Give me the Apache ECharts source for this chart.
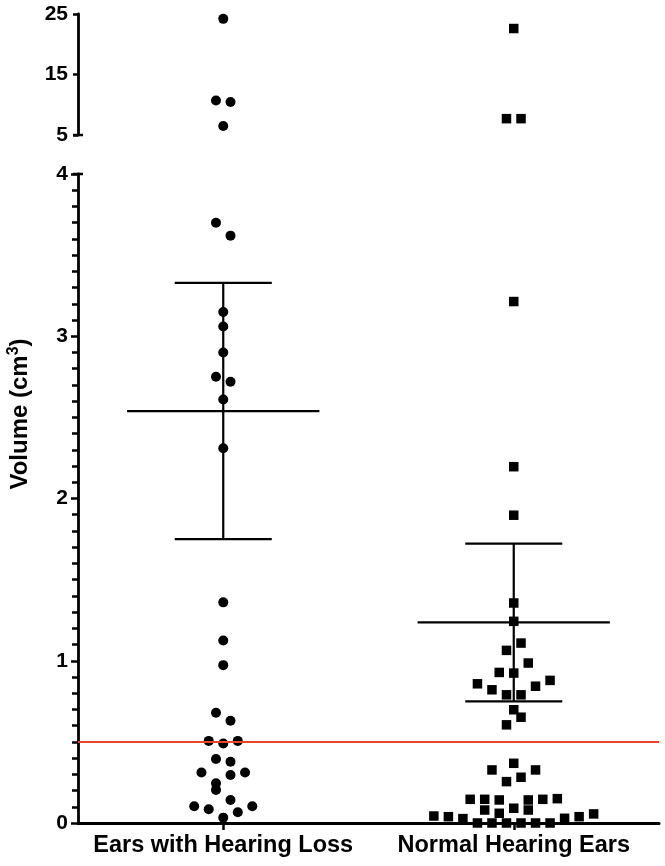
<!DOCTYPE html>
<html>
<head>
<meta charset="utf-8">
<script src="https://cdn.jsdelivr.net/npm/echarts@6/dist/echarts.min.js"></script>
<style>
  html, body { margin: 0; padding: 0; background: #fff; }
  #chart { width: 665px; height: 866px; }
</style>
</head>
<body>
<div id="chart"></div>
<script>
// groups on the x axis
var categories = ['Ears with Hearing Loss', 'Normal Hearing Ears'];

// volumes (cm3), with horizontal jitter steps
var lossValues = [24.2, 10.7, 10.45, 6.5, 3.70, 3.62, 3.15, 3.06, 2.90, 2.75, 2.72, 2.61, 2.31,
  1.36, 1.125, 0.973, 0.679, 0.630, 0.506, 0.490, 0.506, 0.395, 0.378, 0.311, 0.296, 0.311,
  0.245, 0.204, 0.142, 0.103, 0.085, 0.103, 0.066, 0.033];
var lossSteps = [0, -1, 1, 0, -1, 1, 0, 0, 0, -1, 1, 0, 0,
  0, 0, 0, -1, 1, -2, 0, 2, -1, 1, -3, 1, 3,
  -1, -1, 1, -4, -2, 4, 2, 0];

var normalValues = [22.6, 7.7, 7.7, 3.214, 2.196, 1.897, 1.356, 1.243, 1.109, 1.064, 0.986,
  0.928, 0.924, 0.858, 0.879, 0.821, 0.843, 0.790, 0.790, 0.698, 0.652, 0.605,
  0.368, 0.327, 0.327, 0.282, 0.255, 0.146, 0.146, 0.142, 0.142, 0.146, 0.150,
  0.080, 0.060, 0.091, 0.080, 0.043, 0.039, 0.027, 0, 0, 0, 0, 0, 0, 0.029, 0.039, 0.056];
var normalSteps = [0, -1, 1, 0, 0, 0, 0, 0, 1, -1, 2,
  -2, 0, -5, 5, -3, 3, -1, 1, 0, 1, -1,
  0, -3, 3, 1, -1, -6, -4, -2, 2, 4, 6,
  -4, -2, 0, 2, -11, -9, -7, -5, -3, -1, 1, 3, 5, 7, 9, 11];

// mean and SD per group
var means = [2.539, 1.236];
var sds = [0.79, 0.486];

// reference line
var refLine = 0.5;

// broken axis: lower segment 0-4, upper segment 5-25
var lowMax = 4;
var highMin = 5, highMax = 25, highStep = 10;
var stepWidth = 0.025;

var font = "'Liberation Sans', Arial, sans-serif";

function toPoints(values, steps, group, upper) {
  var out = [];
  values.forEach(function (v, i) {
    if ((v > lowMax) === upper) out.push([group + steps[i] * stepWidth, v]);
  });
  return out;
}

var chart = echarts.init(document.getElementById('chart'));

var axisLine = { show: true, onZero: false, lineStyle: { color: '#000', width: 2.8 } };
var yLabel = { color: '#000', fontSize: 21, fontWeight: 'bold', fontFamily: font, margin: 10 };
var dot = { color: '#000', opacity: 1 };

var option = {
  animation: false,
  backgroundColor: '#fff',
  grid: [
    { left: 78, width: 581, top: 14, height: 121 },
    { left: 78, width: 581, top: 174, height: 649 }
  ],
  xAxis: [
    { gridIndex: 0, type: 'value', min: -0.5, max: 1.5, show: false },
    {
      gridIndex: 1, type: 'category', data: categories, boundaryGap: true,
      axisLine: { show: true, onZero: false, lineStyle: { color: '#000', width: 3 } },
      axisTick: { show: true, alignWithLabel: true, interval: 0, length: 7, lineStyle: { color: '#000', width: 2.5 } },
      axisLabel: { interval: 0, color: '#000', fontSize: 23.5, fontWeight: 'bold', fontFamily: font, margin: 11 },
      splitLine: { show: false }
    },
    { gridIndex: 1, type: 'value', min: -0.5, max: 1.5, show: false }
  ],
  yAxis: [
    {
      gridIndex: 0, type: 'value', min: highMin, max: highMax, interval: highStep,
      axisLine: axisLine,
      axisTick: { show: true, length: 5, lineStyle: { color: '#000', width: 2.5 } },
      axisLabel: yLabel,
      splitLine: { show: false }
    },
    {
      gridIndex: 1, type: 'value', min: 0, max: lowMax, interval: 1,
      axisLine: axisLine,
      axisTick: { show: true, length: 7, lineStyle: { color: '#000', width: 2.5 } },
      minorTick: { show: true, splitNumber: 10, length: 6, lineStyle: { color: '#000', width: 2.5 } },
      axisLabel: yLabel,
      splitLine: { show: false }
    }
  ],
  series: [
    {
      type: 'scatter', xAxisIndex: 0, yAxisIndex: 0, symbol: 'circle', symbolSize: 10,
      itemStyle: dot, data: toPoints(lossValues, lossSteps, 0, true)
    },
    {
      type: 'scatter', xAxisIndex: 0, yAxisIndex: 0, symbol: 'rect', symbolSize: 9.5,
      itemStyle: dot, data: toPoints(normalValues, normalSteps, 1, true)
    },
    {
      type: 'custom', xAxisIndex: 2, yAxisIndex: 1, z: 1,
      data: means.map(function (m, i) { return [i, m, sds[i]]; }),
      renderItem: function (params, api) {
        var x = api.value(0), m = api.value(1), s = api.value(2);
        var style = { stroke: '#000', lineWidth: 2.2 };
        function seg(x1, y1, x2, y2) {
          var a = api.coord([x1, y1]), b = api.coord([x2, y2]);
          return { type: 'line', shape: { x1: a[0], y1: a[1], x2: b[0], y2: b[1] }, style: style };
        }
        return {
          type: 'group',
          children: [
            seg(x, m - s, x, m + s),
            seg(x - 0.331, m, x + 0.331, m),
            seg(x - 0.167, m + s, x + 0.167, m + s),
            seg(x - 0.167, m - s, x + 0.167, m - s)
          ]
        };
      }
    },
    {
      type: 'scatter', xAxisIndex: 2, yAxisIndex: 1, symbol: 'circle', symbolSize: 10, z: 3,
      itemStyle: dot, data: toPoints(lossValues, lossSteps, 0, false),
      markLine: {
        silent: true, symbol: 'none', label: { show: false },
        lineStyle: { color: '#e8432c', width: 2, type: 'solid' },
        data: [{ yAxis: refLine }]
      }
    },
    {
      type: 'scatter', xAxisIndex: 2, yAxisIndex: 1, symbol: 'rect', symbolSize: 9.5, z: 3,
      itemStyle: dot, data: toPoints(normalValues, normalSteps, 1, false)
    }
  ]
};

chart.setOption(option);

// break marks and rotated axis title
var pHigh = chart.convertToPixel({ xAxisIndex: 0, yAxisIndex: 0 }, [-0.5, highMin]);
var pLow = chart.convertToPixel({ xAxisIndex: 2, yAxisIndex: 1 }, [-0.5, lowMax]);
function cap(p) {
  return { type: 'line', shape: { x1: p[0] - 5, y1: p[1], x2: p[0] + 5, y2: p[1] },
    style: { stroke: '#000', lineWidth: 2.5 } };
}
chart.setOption({
  graphic: [
    cap(pHigh),
    cap(pLow),
    {
      type: 'text', x: 20, y: 414, rotation: Math.PI / 2,
      style: {
        text: '{a|Volume (cm}{s|3}{a|)}',
        align: 'center', verticalAlign: 'middle',
        rich: {
          a: { fontSize: 24, fontWeight: 'bold', fontFamily: font, fill: '#000', lineHeight: 28 },
          s: { fontSize: 16, fontWeight: 'bold', fontFamily: font, fill: '#000', lineHeight: 28, verticalAlign: 'top' }
        }
      }
    }
  ]
});
</script>
</body>
</html>
